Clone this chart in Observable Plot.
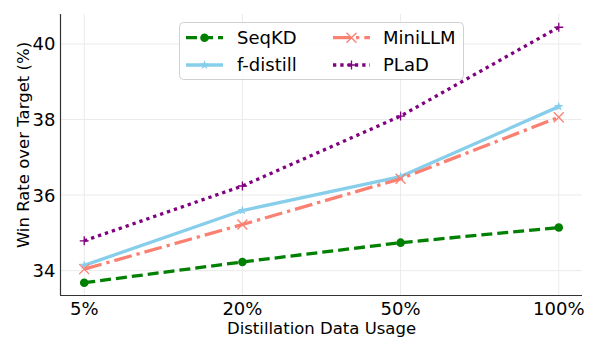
<!DOCTYPE html>
<html>
<head>
<meta charset="utf-8">
<script src="https://cdn.jsdelivr.net/npm/d3@7"></script>
<script src="https://cdn.jsdelivr.net/npm/@observablehq/plot@0.6"></script>
<style>
  body { margin: 0; background: white; }
  #wrap { position: relative; width: 600px; height: 350px; font-family: "DejaVu Sans", sans-serif; }
  #legend { position: absolute; left: 0; top: 0; pointer-events: none; }
</style>
</head>
<body>
<div id="wrap"></div>
<script>
// ---- data ----
const categories = ["5%", "20%", "50%", "100%"];
const seqkd    = [33.68, 34.23, 34.74, 35.14];
const fdistill = [34.14, 35.59, 36.49, 38.34];
const minillm  = [34.04, 35.22, 36.43, 38.06];
const plad     = [34.79, 36.24, 38.09, 40.44];
const yTicks   = [34, 36, 38, 40];
const xLabel = "Distillation Data Usage";
const yLabel = "Win Rate over Target (%)";

const series = [
  {name: "SeqKD",     values: seqkd,    color: "#008000", dash: "11,5",        symbol: "circle", r: 4.3, filled: true},
  {name: "f-distill", values: fdistill, color: "#87CEEB", dash: null,          symbol: "star",   r: 3.0, filled: true},
  {name: "MiniLLM",   values: minillm,  color: "#FA8072", dash: "18,5,3.3,5",  symbol: "times",  r: 4.6, filled: false},
  {name: "PLaD",      values: plad,     color: "#800080", dash: "3.3,4",       symbol: "plus",   r: 3.0, filled: false}
];

const xIdx = categories.map((c, i) => i);
const xDomain = [-0.15, categories.length - 1 + 0.15];
const yDomain = [33.342, 40.778];

const marks = [
  Plot.gridX(xIdx, {stroke: "#ebebeb", strokeOpacity: 1, strokeWidth: 1}),
  Plot.gridY(yTicks, {stroke: "#ebebeb", strokeOpacity: 1, strokeWidth: 1}),
  Plot.axisX(xIdx, {tickSize: 0, tickPadding: 7, tickFormat: i => categories[i], fontSize: 18, label: null, fill: "#000"}),
  Plot.axisY(yTicks, {tickSize: 0, tickPadding: 5, fontSize: 18, label: null, fill: "#000", dy: 0.8}),
  Plot.ruleX([xDomain[0]], {stroke: "#333", strokeWidth: 1.2}),
  Plot.ruleY([yDomain[0]], {stroke: "#333", strokeWidth: 1.2}),
  Plot.text([xLabel], {frameAnchor: "bottom", lineAnchor: "bottom", textAnchor: "middle", dy: 38, fontSize: 16.5, fill: "#000"}),
  Plot.text([yLabel], {frameAnchor: "left", lineAnchor: "bottom", textAnchor: "middle", rotate: -90, dx: -32, dy: -10, fontSize: 16.5, fill: "#000"})
];

for (const s of series) {
  const rows = s.values.map((v, i) => ({i, v}));
  marks.push(Plot.line(rows, {x: "i", y: "v", stroke: s.color, strokeWidth: 3.3, strokeDasharray: s.dash || undefined, strokeLinecap: "butt", strokeLinejoin: "round"}));
  if (s.filled) {
    marks.push(Plot.dot(rows, {x: "i", y: "v", symbol: s.symbol, r: s.r, fill: s.color, stroke: "none"}));
  } else {
    marks.push(Plot.dot(rows, {x: "i", y: "v", symbol: s.symbol, r: s.r, stroke: s.color, fill: "none", strokeWidth: 1.3}));
  }
}

const chart = Plot.plot({
  width: 600, height: 350,
  marginLeft: 60, marginRight: 18, marginTop: 14, marginBottom: 55,
  style: {fontFamily: "DejaVu Sans", fontSize: "18px", color: "#000", background: "white"},
  x: {type: "linear", domain: xDomain},
  y: {type: "linear", domain: yDomain},
  marks
});
document.getElementById("wrap").appendChild(chart);

// ---- legend (inside the axes, upper centre) ----
const symMap = {circle: d3.symbolCircle, star: d3.symbolStar, times: d3.symbolTimes, plus: d3.symbolPlus};
const svg = d3.select("#wrap").append("svg").attr("id", "legend").attr("width", 600).attr("height", 350);
svg.append("rect").attr("x", 179.5).attr("y", 22.5).attr("width", 284).attr("height", 57).attr("rx", 4)
  .attr("fill", "white").attr("fill-opacity", 0.8).attr("stroke", "#d0d0d0").attr("stroke-width", 1);
const pos = [
  {x0: 186, tx: 237, ly: 37.7, by: 44.3},
  {x0: 186, tx: 237, ly: 65,   by: 70.8},
  {x0: 333, tx: 383, ly: 37.7, by: 44.3},
  {x0: 333, tx: 383, ly: 65,   by: 70.8}
];
series.forEach((s, k) => {
  const p = pos[k];
  svg.append("line").attr("x1", p.x0).attr("x2", p.x0 + 37).attr("y1", p.ly).attr("y2", p.ly)
    .attr("stroke", s.color).attr("stroke-width", 3.3).attr("stroke-dasharray", s.dash || null);
  const path = d3.symbol().type(symMap[s.symbol]).size(Math.PI * s.r * s.r)();
  const m = svg.append("path").attr("d", path).attr("transform", `translate(${p.x0 + 18.5},${p.ly})`);
  if (s.filled) m.attr("fill", s.color);
  else m.attr("fill", "none").attr("stroke", s.color).attr("stroke-width", 1.3);
  svg.append("text").attr("x", p.tx).attr("y", p.by).attr("font-family", "DejaVu Sans").attr("font-size", 18)
    .attr("fill", "#000").text(s.name);
});
</script>
</body>
</html>
